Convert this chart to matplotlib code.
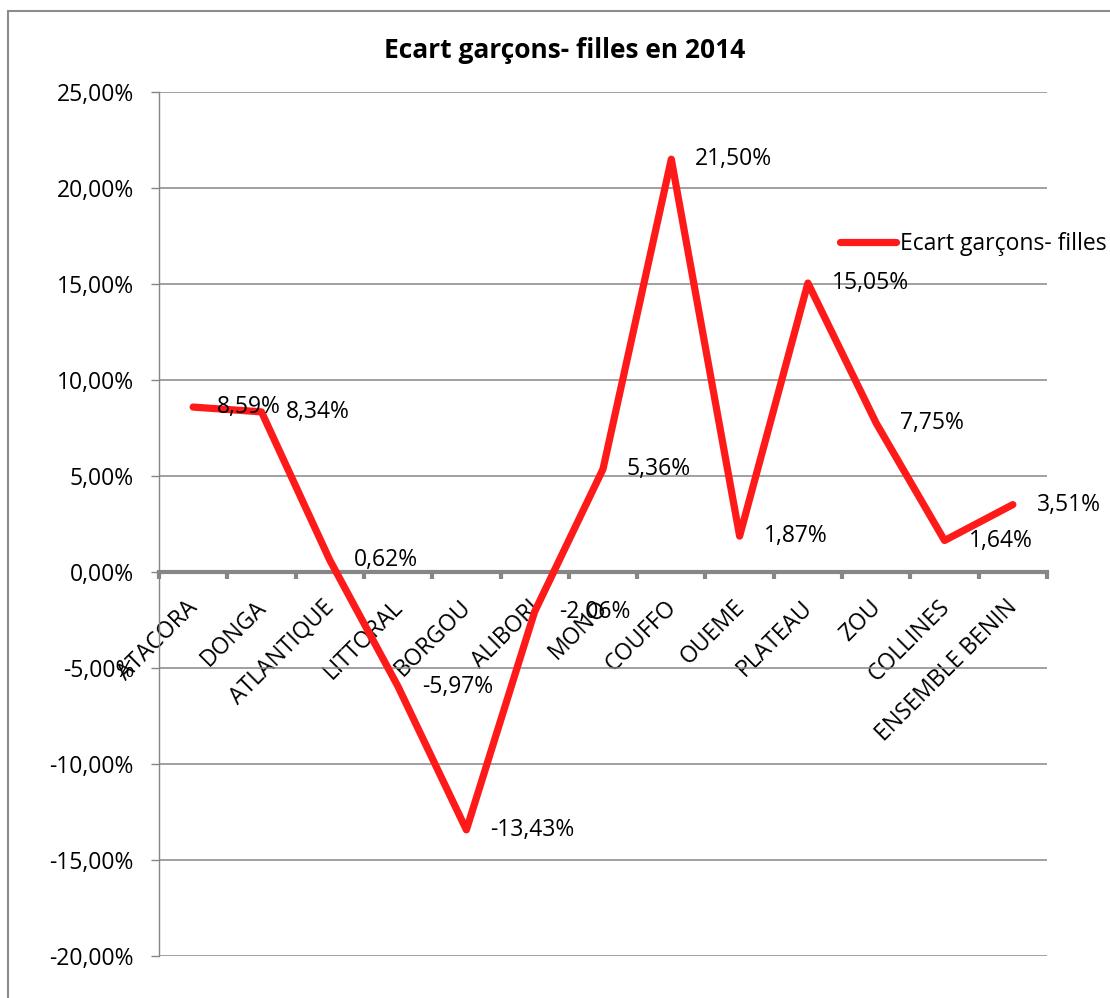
import matplotlib
matplotlib.use('Agg')
import matplotlib.pyplot as plt
from matplotlib.ticker import FuncFormatter, FixedLocator
from matplotlib.patches import Rectangle
from matplotlib.transforms import ScaledTranslation

# données : écart garçons - filles en 2014 (en %)
departements = ['ATACORA', 'DONGA', 'ATLANTIQUE', 'LITTORAL', 'BORGOU', 'ALIBORI',
                'MONO', 'COUFFO', 'OUEME', 'PLATEAU', 'ZOU', 'COLLINES', 'ENSEMBLE BENIN']
ecart = [8.59, 8.34, 0.62, -5.97, -13.43, -2.06, 5.36, 21.50, 1.87, 15.05, 7.75, 1.64, 3.51]
titre = 'Ecart garçons- filles en 2014'
serie = 'Ecart garçons- filles'

plt.rcParams['font.family'] = ['Open Sans', 'DejaVu Sans']
gris = '#868686'
rouge = '#ff1a1a'
fs = 16.5


def pct(v):
    return f"{v:.2f}%".replace('.', ',')


W, H = 1110, 998
fig = plt.figure(figsize=(W / 100, H / 100), dpi=100)
ax = fig.add_axes([159 / W, 1 - 956 / H, (1047 - 159) / W, (956 - 92) / H])

x = list(range(len(departements)))
ax.plot(x, ecart, color=rouge, lw=5.2, solid_capstyle='round', solid_joinstyle='round',
        label=serie, zorder=3)

# étiquettes de données à droite des points
for xi, yi in zip(x, ecart):
    ax.annotate(pct(yi), (xi, yi), xytext=(24, 0), textcoords='offset pixels',
                ha='left', va='center', fontsize=fs, zorder=4)

ax.set_xlim(-0.5, len(departements) - 0.5)
ax.set_ylim(-20, 25)
ax.yaxis.set_major_locator(FixedLocator(range(-20, 26, 5)))
ax.yaxis.set_major_formatter(FuncFormatter(lambda v, p: pct(v)))
ax.tick_params(axis='y', length=6, width=1, color=gris, pad=12, labelsize=fs)
ax.grid(axis='y', color=gris, lw=1.1)
ax.set_axisbelow(True)

# axe horizontal sur 0
ax.spines['bottom'].set_position(('data', 0))
ax.spines['bottom'].set_color(gris)
ax.spines['bottom'].set_linewidth(3)
ax.spines['left'].set_color(gris)
ax.spines['left'].set_linewidth(1)
ax.spines['top'].set_visible(False)
ax.spines['right'].set_visible(False)

ax.set_xticks(x)
ax.set_xticklabels(departements, rotation=45, ha='right', rotation_mode='anchor', fontsize=fs)
ax.set_xticks([i - 0.5 for i in range(len(departements) + 1)], minor=True)
ax.tick_params(axis='x', which='major', length=0, pad=17)
ax.tick_params(axis='x', which='minor', length=5, width=3, color=gris)
for lab in ax.get_xticklabels():
    lab.set_transform(lab.get_transform() + ScaledTranslation(-0.07, 0, fig.dpi_scale_trans))

fig.text(565 / W, 1 - 50 / H, titre, ha='center', va='center', fontsize=19, fontweight='bold')

fig.legend(loc='center left', bbox_to_anchor=(840 / W, 1 - 244 / H), frameon=False,
           fontsize=fs, borderpad=0, borderaxespad=0, handlelength=2.45, handletextpad=0.15)

# cadre du graphique
fig.add_artist(Rectangle((8 / W, -0.1), 1.2, 1.1 - 11 / H, transform=fig.transFigure,
                         fill=False, edgecolor='#8c8c8c', lw=1.5))

fig.savefig('out.png', dpi=100)
